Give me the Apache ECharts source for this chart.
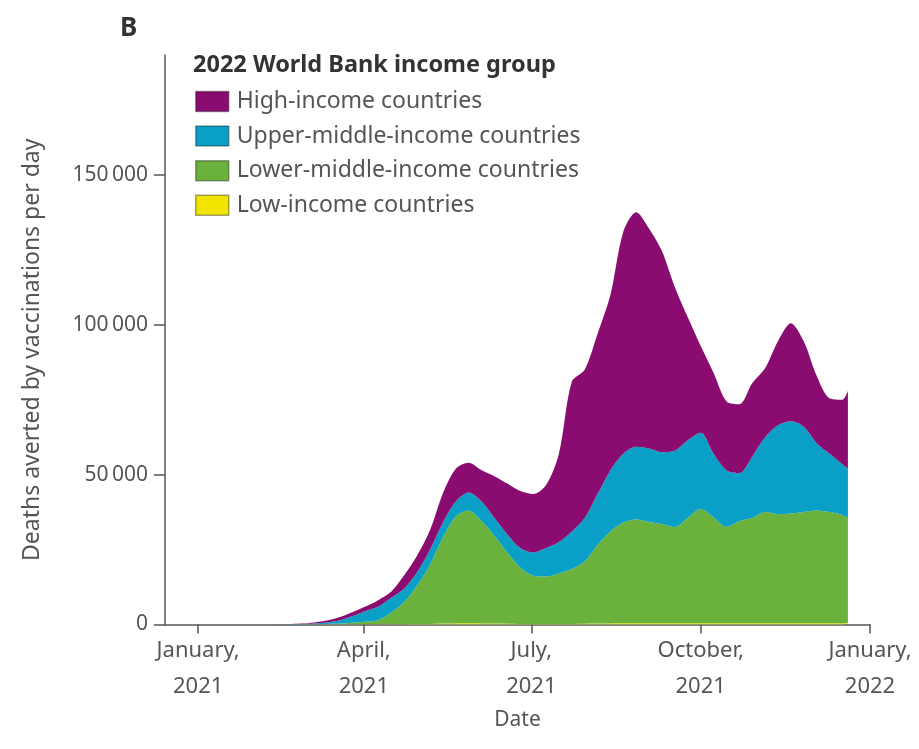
<!DOCTYPE html>
<html><head><meta charset="utf-8">
<script src="https://cdn.jsdelivr.net/npm/echarts@6/dist/echarts.min.js"></script>
<style>html,body{margin:0;padding:0;background:#fff}#c{width:919px;height:749px}</style>
</head><body><div id="c"></div>
<script>
const dates = ['2021-02-12','2021-02-19','2021-02-26','2021-03-05','2021-03-12','2021-03-19','2021-03-26',
  '2021-04-02','2021-04-09','2021-04-16','2021-04-23','2021-04-30','2021-05-07','2021-05-14','2021-05-21','2021-05-28',
  '2021-06-04','2021-06-11','2021-06-18','2021-06-25','2021-07-02','2021-07-09','2021-07-16','2021-07-23','2021-07-30',
  '2021-08-06','2021-08-13','2021-08-20','2021-08-27','2021-09-03','2021-09-10','2021-09-17','2021-09-24',
  '2021-10-01','2021-10-08','2021-10-15','2021-10-22','2021-10-29','2021-11-05','2021-11-12','2021-11-19','2021-11-26',
  '2021-12-03','2021-12-10','2021-12-17','2021-12-20'];
const lowIncome = [0,0,0,0,0,0,0,0,0,50,100,150,200,300,350,400,350,300,250,200,200,200,200,200,250,300,350,400,400,400,400,400,400,450,450,400,400,400,450,450,450,450,450,450,450,450];
const lowerMiddleIncome = [0,0,0,50,150,300,600,900,1500,3950,7400,12850,19800,28700,35650,37600,34150,29200,23750,18800,16100,15800,16800,18300,20750,26200,30650,33600,34600,33800,33100,32100,35100,38050,35350,32100,34100,35100,37050,36350,36550,37050,37550,37050,36050,35050];
const upperMiddleIncome = [0,50,150,300,550,1100,2200,3600,4500,5000,4500,4500,5000,5000,5000,6000,6500,6000,6000,6500,7700,9500,10500,12500,14500,17000,20500,23000,24300,24500,24000,25500,26000,25500,21200,19000,16000,20500,25000,29700,30800,28500,22500,19500,17000,16500];
const highIncome = [20,50,150,350,600,1100,1400,1500,2200,2000,4500,5500,6500,9800,11000,10000,10500,14000,17000,19000,19500,21000,29500,50000,49500,53500,58500,74000,78200,73300,67000,54500,41000,29000,27000,23000,23000,24500,23000,28000,32700,28500,22500,18500,21500,26000];

const seriesNames = ['High-income countries','Upper-middle-income countries','Lower-middle-income countries','Low-income countries'];
const seriesColors = ['#8A0C70','#0A9FC6','#6AB23B','#F0E400'];
const legendTitle = '2022 World Bank income group';
const panelLabel = 'B';
const yTicks = [0, 50000, 100000, 150000];
const yTickLabels = ['0', '50\u2009000', '100\u2009000', '150\u2009000'];
const xTicks = ['2021-01-01','2021-04-01','2021-07-01','2021-10-01','2022-01-01'];
const xTickLabels = ['January,\n2021','April,\n2021','July,\n2021','October,\n2021','January,\n2022'];
const xRange = ['2020-12-14','2022-01-01'];
const yRange = [0, 190000];
const xName = 'Date';
const yName = 'Deaths averted by vaccinations per day';

const FONT = 'Noto Sans';
const TXT = '#555';
const parseT = s => { const p = s.split('-').map(Number); return Date.UTC(p[0], p[1]-1, p[2]); };
const xTickTs = xTicks.map(parseT);
const xMin = parseT(xRange[0]), xMax = parseT(xRange[1]);

function mk(name, vals, color) {
  return {
    name, type: 'line', stack: 'total', smooth: 0.3, symbol: 'none', showSymbol: false,
    xAxisIndex: 0, yAxisIndex: 0,
    data: dates.map((d, i) => [parseT(d), vals[i]]),
    lineStyle: { width: 0 }, itemStyle: { color }, areaStyle: { color, opacity: 1 },
    emphasis: { disabled: true }
  };
}

const chart = echarts.init(document.getElementById('c'), null, { renderer: 'canvas' });
chart.setOption({
  animation: false,
  backgroundColor: '#fff',
  title: [
    { text: panelLabel, left: 120, top: 16, padding: 0, textStyle: { fontFamily: FONT, fontSize: 26, fontWeight: 'bold', color: '#333' } },
    { text: legendTitle, left: 193, top: 53, padding: 0, textStyle: { fontFamily: FONT, fontSize: 23.5, fontWeight: 'bold', color: '#333' } }
  ],
  legend: {
    orient: 'vertical', left: 195, top: 90, padding: 0,
    itemWidth: 33, itemHeight: 20, itemGap: 11.6, icon: 'rect', selectedMode: false,
    data: seriesNames,
    itemStyle: { borderColor: 'rgba(0,0,0,0.35)', borderWidth: 1.5 },
    textStyle: { fontFamily: FONT, fontSize: 23, color: TXT, padding: [0, 0, 0, 3] }
  },
  grid: { left: 165, right: 49, top: 55, bottom: 124.5, containLabel: false },
  xAxis: [
    {
      type: 'time', min: xMin, max: xMax, position: 'bottom',
      axisLine: { show: false }, axisTick: { show: false }, axisLabel: { show: false }, splitLine: { show: false }
    },
    {
      type: 'value', min: xMin, max: xMax, position: 'bottom',
      axisLine: { show: true, onZero: false, lineStyle: { color: TXT, width: 1.5 } },
      axisTick: { show: true, length: 9, customValues: xTickTs, lineStyle: { color: TXT, width: 1.5 } },
      axisLabel: {
        customValues: xTickTs, margin: 8, fontFamily: FONT, fontSize: 22, lineHeight: 36, color: TXT,
        formatter: v => { const i = xTickTs.findIndex(t => Math.abs(t - v) < 43200000); return i >= 0 ? xTickLabels[i] : ''; }
      },
      splitLine: { show: false },
      name: xName, nameLocation: 'middle', nameGap: 81,
      nameTextStyle: { fontFamily: FONT, fontSize: 21, color: TXT }
    }
  ],
  yAxis: {
    type: 'value', min: yRange[0], max: yRange[1], interval: 50000,
    axisLine: { show: true, lineStyle: { color: TXT, width: 1.5 } },
    axisTick: { show: true, length: 11, customValues: yTicks, lineStyle: { color: TXT, width: 1.5 } },
    axisLabel: {
      customValues: yTicks, margin: 17, fontFamily: FONT, fontSize: 21, color: TXT,
      formatter: v => { const i = yTicks.indexOf(v); return i >= 0 ? yTickLabels[i] : ''; }
    },
    splitLine: { show: false },
    name: yName, nameLocation: 'middle', nameGap: 121,
    nameTextStyle: { fontFamily: FONT, fontSize: 23, color: TXT, padding: [0, 20, 0, 0] }
  },
  series: [
    mk(seriesNames[3], lowIncome, seriesColors[3]),
    mk(seriesNames[2], lowerMiddleIncome, seriesColors[2]),
    mk(seriesNames[1], upperMiddleIncome, seriesColors[1]),
    mk(seriesNames[0], highIncome, seriesColors[0])
  ]
});
</script></body></html>
